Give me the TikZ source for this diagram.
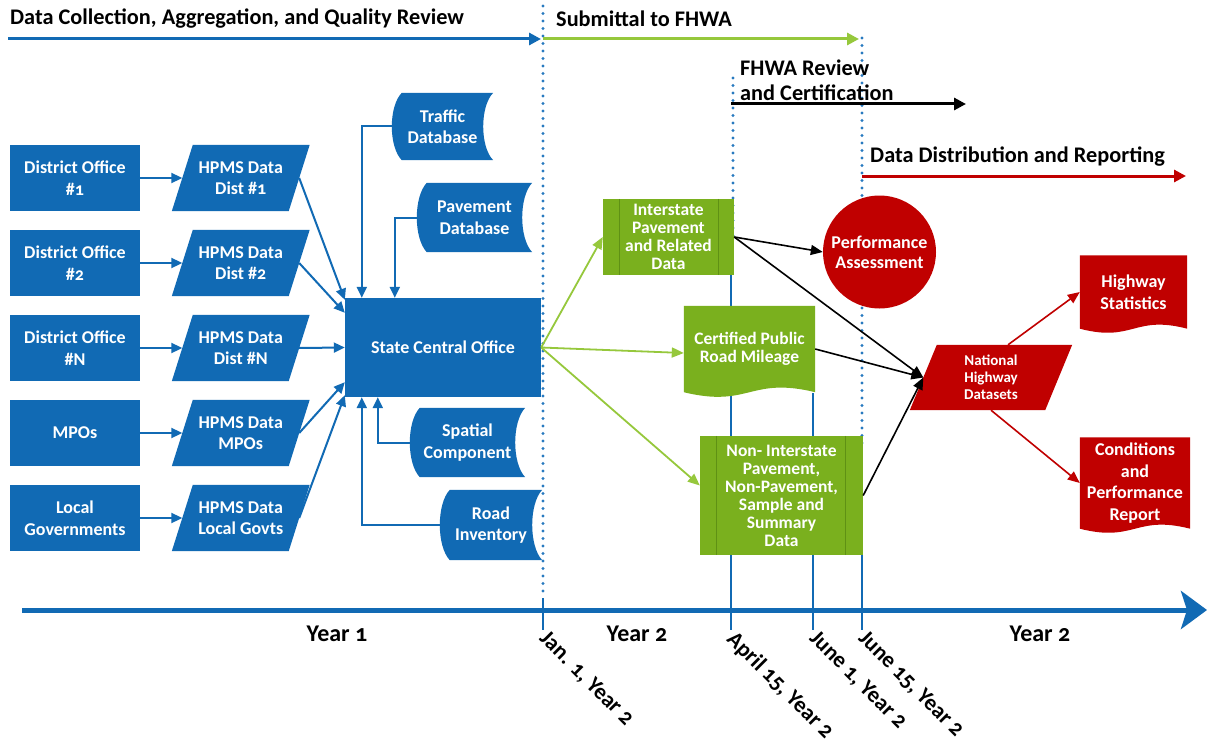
\documentclass[tikz,border=0pt]{standalone}
\usepackage{fontspec}
\setmainfont{Carlito}[Numbers=OldStyle]
\usetikzlibrary{arrows.meta,calc,shapes.geometric}
\definecolor{hblue}{RGB}{17,106,180}
\definecolor{dotblue}{RGB}{40,122,192}
\definecolor{hgreen}{RGB}{122,176,30}
\definecolor{lgreen}{RGB}{150,200,60}
\definecolor{dgreen}{RGB}{95,145,20}
\definecolor{hred}{RGB}{192,0,0}
\pgfdeclarelayer{bg}
\pgfdeclarelayer{shp}
\pgfsetlayers{bg,shp,main}
\newcommand\mydoc[3]{%
  \fill[#2] (#1.north west) -- (#1.north east) -- (#1.south east)
    .. controls ($(#1.south east)!0.5!(#1.south west)+(0,-#3)$) and ($(#1.south east)!0.5!(#1.south west)+(0,#3)$) .. (#1.south west) -- cycle;}
\newcommand\mystore[3]{%
  \fill[#2] ($(#1.north west)+(#3,0)$) -- (#1.north east)
    .. controls ($(#1.north east)!0.2!(#1.south east)+(-4*#3/3,0)$) and ($(#1.north east)!0.8!(#1.south east)+(-4*#3/3,0)$) .. (#1.south east)
    -- ($(#1.south west)+(#3,0)$)
    .. controls ($(#1.south west)!0.2!(#1.north west)+(-#3/3,0)$) and ($(#1.south west)!0.8!(#1.north west)+(-#3/3,0)$) .. cycle;}
\newcommand\mypara[3]{%
  \fill[#2] ($(#1.north west)+(#3,0)$) -- ($(#1.north east)+(#3,0)$) -- ($(#1.south east)+(-#3,0)$) -- ($(#1.south west)+(-#3,0)$) -- cycle;}
\tikzset{
  txt/.style={text=white, align=center, inner sep=0pt, font=\bfseries\fontsize{18}{21.5}\selectfont},
  gtxt/.style={txt, font=\bfseries\fontsize{17.5}{18}\selectfont},
  brect/.style={txt, fill=hblue, minimum width=130pt, minimum height=66pt},
  ptxt/.style={txt, minimum width=116.5pt, minimum height=66pt},
  htxt/.style={text=black, inner sep=0pt, anchor=west, font=\bfseries\fontsize{22.3}{25}\selectfont},
  ytxt/.style={text=black, inner sep=0pt, font=\bfseries\fontsize{24}{27}\selectfont},
  dtxt/.style={text=black, inner sep=0pt, font=\bfseries\fontsize{22.5}{25}\selectfont, rotate=-45, anchor=north west},
  barrow/.style={draw=hblue, line width=2pt, -{Triangle[length=11pt,width=10pt]}},
  garrow/.style={draw=lgreen, line width=1.8pt, -{Triangle[length=12pt,width=10pt]}},
  karrow/.style={draw=black, line width=1.6pt, -{Triangle[length=12pt,width=10pt]}},
  rarrow/.style={draw=hred, line width=1.6pt, -{Triangle[length=12pt,width=10pt]}},
  harrow/.style={line width=3pt, -{Triangle[length=12pt,width=12pt]}},
  vline/.style={draw=hblue, line width=2.6pt},
  dotl/.style={draw=dotblue, line width=3.3pt, line cap=round, dash pattern=on 0pt off 7.5pt},
}
\begin{document}
\begin{tikzpicture}[x=1pt,y=-1pt]
\useasboundingbox (0,0) rectangle (1207,749);
\begin{pgfonlayer}{bg}
\fill[white] (0,0) rectangle (1207,749);
\end{pgfonlayer}

% header
\node[htxt] (t1) at (10,19) {Data Collection, Aggregation, and Quality Review};
\node[htxt] (t2) at (556,19) {Submittal to FHWA};
\node[htxt] (t3) at (740,68) {FHWA Review};
\node[htxt] (t4) at (740,93) {and Certification};
\node[htxt] (t5) at (870,157) {Data Distribution and Reporting};
\coordinate (a1s) at (8,39);   \coordinate (a1e) at (541,39);
\coordinate (a2s) at (543,39); \coordinate (a2e) at (859,39);
\coordinate (a3s) at (731,104); \coordinate (a3e) at (966,104);
\coordinate (a4s) at (862,176); \coordinate (a4e) at (1186,176);
\draw[harrow, draw=hblue] (a1s) -- (a1e);
\draw[harrow, draw=lgreen] (a2s) -- (a2e);
\draw[harrow, draw=black] (a3s) -- (a3e);
\draw[harrow, draw=hred] (a4s) -- (a4e);

% vertical lines
\begin{pgfonlayer}{bg}
\draw[vline] (543,598) -- (543,630);
\draw[vline] (731,275) -- (731,630);
\draw[vline] (813,393) -- (813,630);
\draw[vline] (862,555) -- (862,630);
\draw[dotl] (543,6) -- (543,598);
\draw[dotl] (733,78) -- (733,240);
\draw[dotl] (862,38) -- (862,450);
\end{pgfonlayer}

% timeline
\coordinate (tls) at (22,610); \coordinate (tle) at (1207,610);
\draw[draw=hblue, line width=5pt, -{Stealth[length=26pt,width=38pt,inset=6pt]}] (tls) -- (tle);
\node[ytxt] (y1) at (337,634) {Year 1};
\node[ytxt] (y2) at (637,634) {Year 2};
\node[ytxt] (y3) at (1040,634) {Year 2};
\node[dtxt] (dj) at (549,629) {Jan. 1, Year 2};
\node[dtxt] (da) at (737,629) {April 15, Year 2};
\node[dtxt] (d1) at (819,629) {June 1, Year 2};
\node[dtxt] (d15) at (868,629) {June 15, Year 2};

% left column
\node[brect] (do1) at (75,178) {District Office\\\#1};
\node[brect] (do2) at (75,263) {District Office\\\#2};
\node[brect] (do3) at (75,348) {District Office\\\#N};
\node[brect] (mpo) at (75,433) {MPOs};
\node[brect] (loc) at (75,518) {Local\\Governments};

\node[ptxt] (h1) at (240.75,178) {HPMS Data\\Dist \#1};
\node[ptxt] (h2) at (240.75,263) {HPMS Data\\Dist \#2};
\node[ptxt] (h3) at (240.75,348) {HPMS Data\\Dist \#N};
\node[ptxt] (h4) at (240.75,433) {HPMS Data\\MPOs};
\node[ptxt] (h5) at (240.75,518) {HPMS Data\\Local Govts};
\begin{pgfonlayer}{shp}
\foreach \n in {h1,h2,h3,h4,h5} {\mypara{\n}{hblue}{10.5}}
\end{pgfonlayer}

\node[brect, minimum width=196pt, minimum height=99pt] (sco) at (443,347.5) {State Central Office};

\node[txt, minimum width=101pt, minimum height=67pt] (tdb) at (442.5,126.5) {Traffic\\Database};
\node[txt, minimum width=115pt, minimum height=69pt] (pdb) at (474.5,217.5) {Pavement\\Database};
\node[txt, minimum width=115pt, minimum height=69pt] (spc) at (467.5,442.5) {Spatial\\Component};
\node[txt, minimum width=102pt, minimum height=70pt] (rdi) at (491,525) {Road\\Inventory};
\begin{pgfonlayer}{shp}
\foreach \n in {tdb,pdb,spc,rdi} {\mystore{\n}{hblue}{10}}
\end{pgfonlayer}

% green
\node[gtxt, fill=hgreen, minimum width=131pt, minimum height=76pt] (int) at (668.5,237) {Interstate\\Pavement\\and Related\\Data};
\node[gtxt, minimum width=131pt, minimum height=86pt] (cert) at (749.5,349) {Certified Public\\Road Mileage};
\node[gtxt, fill=hgreen, minimum width=163pt, minimum height=119pt] (non) at (781.5,495.5) {Non- Interstate\\Pavement,\\Non-Pavement,\\Sample and\\Summary\\Data};
\begin{pgfonlayer}{shp}
\mydoc{cert}{hgreen}{16}
\end{pgfonlayer}
\draw[dgreen, line width=1pt] ($(int.north west)+(17,0)$) -- ($(int.south west)+(17,0)$);
\draw[dgreen, line width=1pt] ($(int.north east)+(-16,0)$) -- ($(int.south east)+(-16,0)$);
\draw[dgreen, line width=1pt] ($(non.north west)+(17,0)$) -- ($(non.south west)+(17,0)$);
\draw[dgreen, line width=1pt] ($(non.north east)+(-18,0)$) -- ($(non.south east)+(-18,0)$);

% red
\node[txt, circle, fill=hred, minimum size=113pt, font=\bfseries\fontsize{18}{20}\selectfont] (perf) at (879.5,252) {Performance\\Assessment};
\node[txt, minimum width=135pt, minimum height=65pt, font=\bfseries\fontsize{15}{17}\selectfont] (nhd) at (991,377.5) {National\\Highway\\Datasets};
\node[txt, minimum width=107pt, minimum height=73pt] (hs) at (1133.5,292) {Highway\\Statistics};
\node[txt, minimum width=110pt, minimum height=91pt] (cpr) at (1135,483) {Conditions\\and\\Performance\\Report};
\begin{pgfonlayer}{shp}
\mypara{nhd}{hred}{13.5}
\mydoc{hs}{hred}{14}
\mydoc{cpr}{hred}{14}
\end{pgfonlayer}

% connectors blue
\draw[barrow] (do1.east) -- (h1.west);
\draw[barrow] (do2.east) -- (h2.west);
\draw[barrow] (do3.east) -- (h3.west);
\draw[barrow] (mpo.east) -- (h4.west);
\draw[barrow] (loc.east) -- (h5.west);
\draw[barrow] (h1.east) -- ($(sco.north west)+(0,2)$);
\draw[barrow] (h2.east) -- ($(sco.north west)+(0,15)$);
\draw[barrow] (h3.east) -- (sco.west);
\draw[barrow] (h4.east) -- ($(sco.south west)+(0,-15)$);
\draw[barrow] (h5.east) -- ($(sco.south west)+(0,-2)$);
\draw[barrow] (tdb.west) -| ($(sco.north west)+(17,0)$);
\draw[barrow] (pdb.west) -| ($(sco.north west)+(50,0)$);
\draw[barrow] (spc.west) -| ($(sco.south west)+(33,0)$);
\draw[barrow] (rdi.west) -| ($(sco.south west)+(17,0)$);

% green connectors
\draw[garrow] (sco.east) -- (int.west);
\draw[garrow] (sco.east) -- ($(cert.west)+(0,4)$);
\draw[garrow] (sco.east) -- ($(non.west)+(0,-10)$);

% black connectors
\draw[karrow] (int.east) -- (perf.west);
\draw[karrow] (int.east) -- (nhd.west);
\draw[karrow] (cert.east) -- (nhd.west);
\draw[karrow] (non.east) -- (nhd.west);

% red connectors
\draw[rarrow] ($(nhd.north)+(17,0)$) -- (hs.west);
\draw[rarrow] (nhd.south) -- (cpr.west);
\end{tikzpicture}
\end{document}
